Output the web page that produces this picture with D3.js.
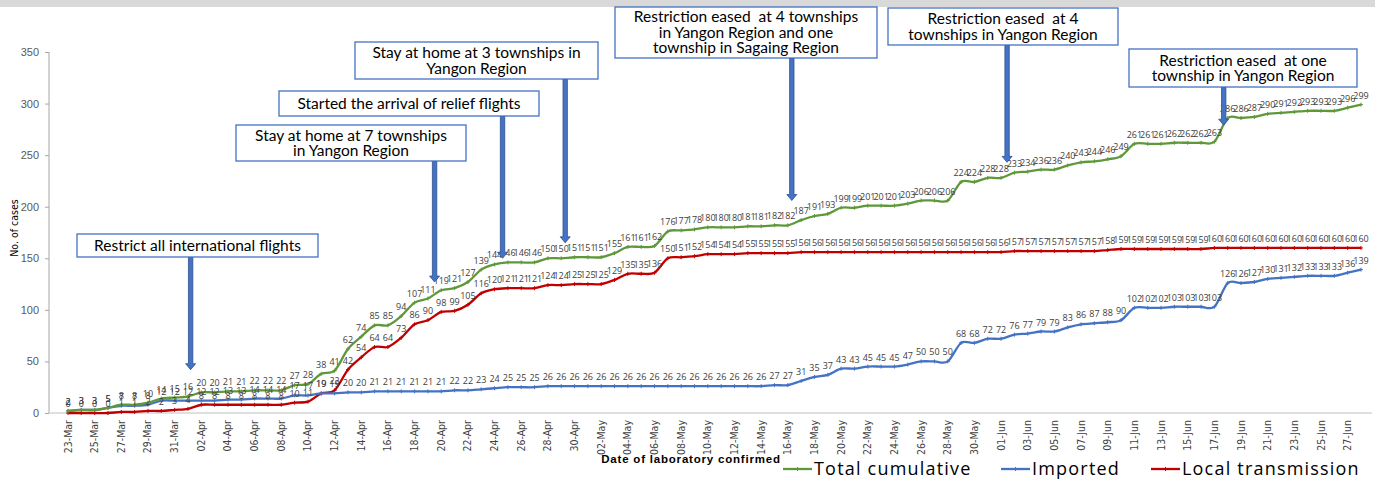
<!DOCTYPE html>
<html>
<head>
<meta charset="utf-8">
<script src="https://cdn.jsdelivr.net/npm/d3@7"></script>
<style>
  body { margin: 0; background: #fff; }
  svg { display: block; }
  .tick-y { font-family: "Liberation Sans", Arial, sans-serif; font-size: 11px; fill: #595959; }
  .tick-x { font-family: "Liberation Sans Narrow", "DejaVu Sans Condensed", sans-serif; font-size: 10.5px; fill: #404040; }
  .dlabel { font-family: "Open Sans", sans-serif; font-size: 9px; fill: #404040; }
  .note { font-family: Lato, "Open Sans", sans-serif; font-size: 15.5px; fill: #000; white-space: pre; }
  .legend-text { font-family: "Open Sans", sans-serif; font-size: 18px; letter-spacing: 1.2px; fill: #000; }
</style>
</head>
<body>
<div id="chart"></div>
<script>
// categories: days of laboratory confirmation, 2020
const dates = [
  "23-Mar","24-Mar","25-Mar","26-Mar","27-Mar","28-Mar","29-Mar","30-Mar","31-Mar",
  "01-Apr","02-Apr","03-Apr","04-Apr","05-Apr","06-Apr","07-Apr","08-Apr","09-Apr","10-Apr",
  "11-Apr","12-Apr","13-Apr","14-Apr","15-Apr","16-Apr","17-Apr","18-Apr","19-Apr","20-Apr",
  "21-Apr","22-Apr","23-Apr","24-Apr","25-Apr","26-Apr","27-Apr","28-Apr","29-Apr","30-Apr",
  "01-May","02-May","03-May","04-May","05-May","06-May","07-May","08-May","09-May","10-May",
  "11-May","12-May","13-May","14-May","15-May","16-May","17-May","18-May","19-May","20-May",
  "21-May","22-May","23-May","24-May","25-May","26-May","27-May","28-May","29-May","30-May","31-May",
  "01-Jun","02-Jun","03-Jun","04-Jun","05-Jun","06-Jun","07-Jun","08-Jun","09-Jun","10-Jun",
  "11-Jun","12-Jun","13-Jun","14-Jun","15-Jun","16-Jun","17-Jun","18-Jun","19-Jun","20-Jun",
  "21-Jun","22-Jun","23-Jun","24-Jun","25-Jun","26-Jun","27-Jun","28-Jun"
];

const totalCumulative = [
  2,3,3,5,8,8,10,14,15,16, 20,20,21,21,22,22,22,27,28,38,
  41,62,74,85,85,94,107,111,119,121, 127,139,144,146,146,146,150,150,151,151,
  151,155,161,161,162,176,177,178,180,180, 180,181,181,182,182,187,191,193,199,199,
  201,201,201,203,206,206,206,224,224,228, 228,233,234,236,236,240,243,244,246,249,
  261,261,261,262,262,262,263,286,286,287, 290,291,292,293,293,293,296,299
];

const imported = [
  2,3,3,5,7,7,8,12,12,12, 12,12,13,13,14,14,14,17,17,19,
  19,20,20,21,21,21,21,21,21,22, 22,23,24,25,25,25,26,26,26,26,
  26,26,26,26,26,26,26,26,26,26, 26,26,26,27,27,31,35,37,43,43,
  45,45,45,47,50,50,50,68,68,72, 72,76,77,79,79,83,86,87,88,90,
  102,102,102,103,103,103,103,126,126,127, 130,131,132,133,133,133,136,139
];

const localTransmission = [
  0,0,0,0,1,1,2,2,3,4, 8,8,8,8,8,8,8,10,11,19,
  22,42,54,64,64,73,86,90,98,99, 105,116,120,121,121,121,124,124,125,125,
  125,129,135,135,136,150,151,152,154,154, 154,155,155,155,155,156,156,156,156,156,
  156,156,156,156,156,156,156,156,156,156, 156,157,157,157,157,157,157,157,158,159,
  159,159,159,159,159,159,160,160,160,160, 160,160,160,160,160,160,160,160
];

const seriesNames = ["Total cumulative", "Imported", "Local transmission"];
const yTicks = [0, 50, 100, 150, 200, 250, 300, 350];

// events: date of the arrow (with part of a day), tip value, text lines
const events = [
  { date: "01-Apr", part: 0.2, tip: 42,  lines: ["Restrict all international flights"] },
  { date: "19-Apr", part: 0.5, tip: 127, lines: ["Stay at home at 7 townships", "in Yangon Region"] },
  { date: "24-Apr", part: 0.6, tip: 150, lines: ["Started the arrival of relief flights"] },
  { date: "29-Apr", part: 0.3, tip: 165, lines: ["Stay at home at 3 townships in", "Yangon Region"] },
  { date: "16-May", part: 0.3, tip: 206, lines: ["Restriction eased  at 4 townships", "in Yangon Region and one", "township in Sagaing Region"] },
  { date: "01-Jun", part: 0.45, tip: 243, lines: ["Restriction eased  at 4", "townships in Yangon Region"] },
  { date: "17-Jun", part: 0.7, tip: 279, lines: ["Restriction eased  at one", "township in Yangon Region"] }
];

// box placement of each event note, pixels
const noteBoxes = [
  { x: 77,   y: 234, w: 241, h: 23 },
  { x: 236,  y: 125, w: 230, h: 36 },
  { x: 279,  y: 91,  w: 260, h: 25 },
  { x: 355,  y: 42,  w: 243, h: 37 },
  { x: 615,  y: 7,   w: 262, h: 51 },
  { x: 888,  y: 8,   w: 230, h: 37 },
  { x: 1129, y: 49,  w: 228, h: 38 }
];

const W = 1375, H = 484;
const colors = ["#5f983b", "#4472c4", "#c00000"];

const svg = d3.select("#chart").append("svg").attr("width", W).attr("height", H);

svg.append("rect").attr("x", 0).attr("y", 0).attr("width", W).attr("height", 7).attr("fill", "#d9d9d9");

let xScale = d3.scalePoint().domain(dates).range([68, 1361]);
let yScale = d3.scaleLinear().domain([0, 350]).range([413, 52]);
let step = xScale.step();

// y axis
let yAxis = svg.append("g").attr("transform", "translate(49,0)")
    .call(d3.axisLeft(yScale).tickValues(yTicks).tickSize(4).tickPadding(6));
yAxis.select(".domain").attr("stroke", "#a6a6a6").attr("d", "M0," + yScale(350) + "V" + yScale(0));
yAxis.selectAll(".tick line").attr("stroke", "#a6a6a6");
yAxis.selectAll("text").attr("class", "tick-y");

svg.append("text")
    .attr("transform", "translate(18," + 228 + ") rotate(-90)")
    .attr("text-anchor", "middle")
    .attr("font-family", "'Liberation Sans Narrow', 'DejaVu Sans Condensed', sans-serif")
    .attr("font-size", 10.5).attr("fill", "#000")
    .text("No. of cases");

// x axis
svg.append("line").attr("x1", 49).attr("x2", 1372).attr("y1", yScale(0)).attr("y2", yScale(0))
    .attr("stroke", "#bfbfbf").attr("stroke-width", 1.2);

svg.append("g").selectAll("text")
    .data(dates.filter((d, i) => i % 2 == 0))
    .enter().append("text")
    .attr("class", "tick-x")
    .attr("transform", d => "translate(" + (xScale(d) + 3.5) + ",420) rotate(-90)")
    .attr("text-anchor", "end")
    .text(d => d);

svg.append("text")
    .attr("x", 691).attr("y", 463)
    .attr("text-anchor", "middle")
    .attr("font-family", "'Liberation Sans', Arial, sans-serif")
    .attr("font-weight", "bold").attr("font-size", 11.5)
    .attr("letter-spacing", 0.8)
    .text("Date of laboratory confirmed");

// series
let allSeries = [totalCumulative, imported, localTransmission];
let line = d3.line()
    .x((d, i) => xScale(dates[i]))
    .y(d => yScale(d))
    .curve(d3.curveCardinal.tension(0.1));

// draw red first, then blue, green on top
let order = [2, 1, 0];
order.forEach(s => {
    svg.append("path")
        .datum(allSeries[s])
        .attr("d", line)
        .attr("fill", "none")
        .attr("stroke", colors[s])
        .attr("stroke-width", 2.3);

    let marks = svg.append("g").attr("stroke", colors[s]).attr("stroke-width", 1);
    allSeries[s].forEach((v, i) => {
        let px = xScale(dates[i]), py = yScale(v);
        marks.append("path").attr("d", "M" + (px - 2) + "," + py + "H" + (px + 2) + "M" + px + "," + (py - 2) + "V" + (py + 2));
    });
});

order.forEach(s => {
    svg.append("g").selectAll("text")
        .data(allSeries[s])
        .enter().append("text")
        .attr("class", "dlabel")
        .attr("x", (d, i) => xScale(dates[i]))
        .attr("y", d => yScale(d) - 6)
        .attr("text-anchor", "middle")
        .text(d => d);
});

// event notes and arrows
events.forEach((e, k) => {
    let b = noteBoxes[k];
    let ax = xScale(e.date) + e.part * step;
    let tipY = yScale(e.tip);
    let top = b.y + b.h;
    svg.append("path")
        .attr("d", "M" + (ax - 2.2) + "," + top + "V" + (tipY - 6) + "H" + (ax - 5) +
                   "L" + ax + "," + tipY + "L" + (ax + 5) + "," + (tipY - 6) + "H" + (ax + 2.2) + "V" + top + "Z")
        .attr("fill", "#4472c4").attr("stroke", "#2f528f").attr("stroke-width", 0.8);

    svg.append("rect")
        .attr("x", b.x).attr("y", b.y).attr("width", b.w).attr("height", b.h)
        .attr("fill", "#fff").attr("stroke", "#4472c4").attr("stroke-width", 1.3);

    let lh = 15.5;
    let y0 = b.y + b.h / 2 - (e.lines.length - 1) * lh / 2;
    e.lines.forEach((t, j) => {
        svg.append("text").attr("class", "note")
            .attr("x", b.x + b.w / 2).attr("y", y0 + j * lh)
            .attr("dy", "0.35em").attr("text-anchor", "middle")
            .text(t);
    });
});

// legend
let legendX = [783, 1001, 1151];
seriesNames.forEach((name, s) => {
    let g = svg.append("g").attr("transform", "translate(" + legendX[s] + ",469)");
    g.append("line").attr("x1", 0).attr("x2", 29).attr("y1", 0).attr("y2", 0)
        .attr("stroke", colors[s]).attr("stroke-width", 2.3);
    g.append("path").attr("d", "M12.5,0H16.5M14.5,-2V2").attr("stroke", colors[s]);
    g.append("text").attr("class", "legend-text").attr("x", 31).attr("y", 0).attr("dy", "0.35em").text(name);
});
</script>
</body>
</html>
